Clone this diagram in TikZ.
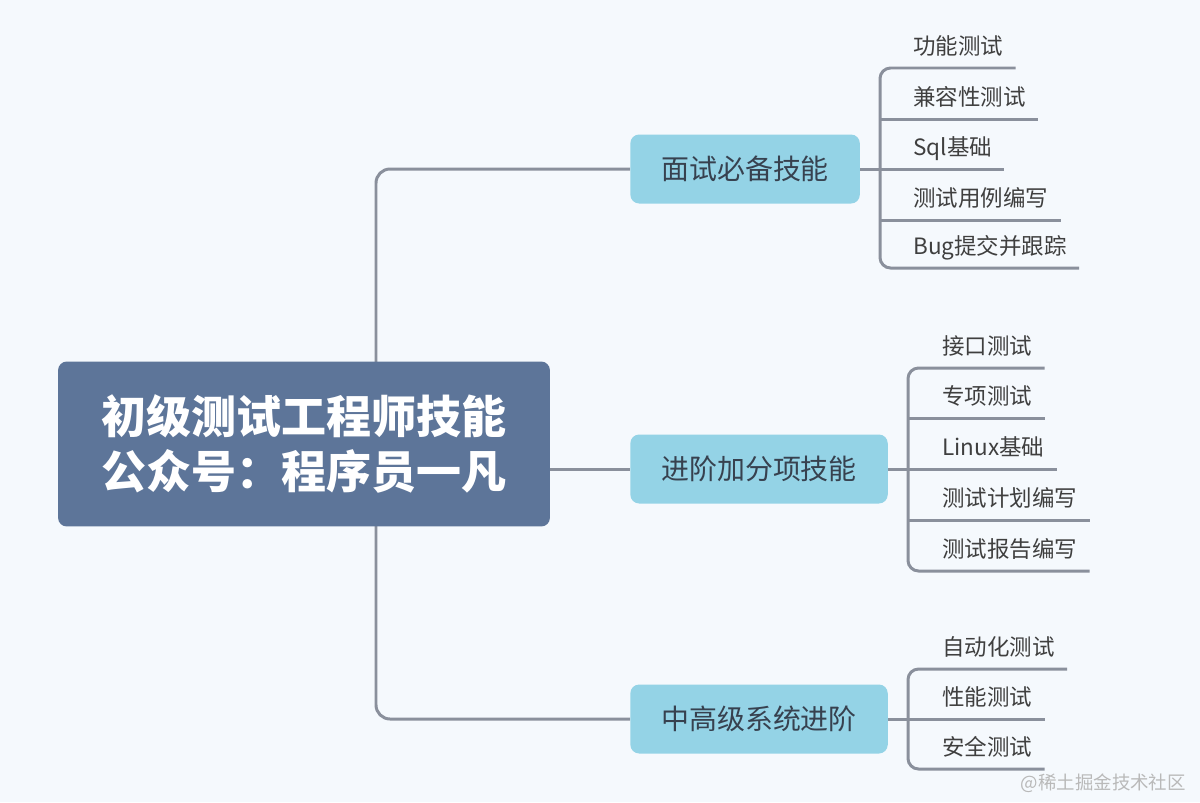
\documentclass[tikz,border=0pt]{standalone}
\usepackage{fontspec}
\setmainfont{Noto Sans CJK SC}
\usetikzlibrary{positioning,backgrounds}
\definecolor{paper}{HTML}{F5F9FD}
\definecolor{rootfill}{HTML}{5D7599}
\definecolor{branchfill}{HTML}{94D3E6}
\definecolor{linkgray}{HTML}{8A909C}
\definecolor{leaftext}{HTML}{3F3F3F}
\definecolor{branchtext}{HTML}{37414F}
\tikzset{
  rootbox/.style={
    rectangle,
    rounded corners=5pt,
    fill=rootfill,
    text=white,
    align=center,
    minimum width=9.84cm,
    minimum height=3.3cm,
    font=\fontsize{25.6}{31.7}\selectfont\bfseries
  },
  branchbox/.style={
    rectangle,
    rounded corners=5pt,
    fill=branchfill,
    text=branchtext,
    anchor=west,
    minimum height=1.38cm,
    inner xsep=17.6pt,
    font=\fontsize{15.9}{19}\selectfont
  },
  leaf/.style={
    anchor=south west,
    inner xsep=6.8pt,
    inner ysep=7.6pt,
    text depth=0pt,
    text=leaftext,
    font=\fontsize{12.8}{15}\selectfont
  },
  link/.style={
    draw=linkgray,
    line width=1.7pt
  },
  watermark/.style={
    anchor=east,
    text=gray!55,
    font=\fontsize{10.5}{12}\selectfont
  }
}

\begin{document}
\begin{tikzpicture}[x=0.02cm, y=-0.02cm]
  \useasboundingbox (0,0) rectangle (1200,802);

  \node[rootbox] (root) at (304,444) {初级测试工程师技能\\公众号：程序员一凡};
  \node[branchbox] (must) at (630,169) {面试必备技能};
  \node[branchbox] (bonus) at (630,469) {进阶加分项技能};
  \node[branchbox] (adv) at (630,719) {中高级系统进阶};

  \coordinate (hub) at (376,469);
  \coordinate (mustjoin) at (880,169);
  \coordinate (bonusjoin) at (908,469);
  \coordinate (advjoin) at (908,719);

  % interview basics
  \node[leaf] (func) at (901,68) {功能测试};
  \node[leaf] (compat) at (901,119) {兼容性测试};
  \node[leaf] (sql) at (901,169) {Sql基础};
  \node[leaf] (cases) at (901,220) {测试用例编写};
  \node[leaf] (bug) at (901,268) {Bug提交并跟踪};

  % bonus skills
  \node[leaf] (api) at (930,368) {接口测试};
  \node[leaf] (special) at (930,418) {专项测试};
  \node[leaf] (linux) at (930,469) {Linux基础};
  \node[leaf] (plan) at (930,520) {测试计划编写};
  \node[leaf] (report) at (930,571) {测试报告编写};

  % advanced
  \node[leaf] (auto) at (930,669) {自动化测试};
  \node[leaf] (perf) at (930,719) {性能测试};
  \node[leaf] (security) at (930,769) {安全测试};

  \node[watermark] (mark) at (1192,783) {@稀土掘金技术社区};

  \begin{scope}[on background layer]
    \fill[paper] (0,0) rectangle (1200,802);
    \draw[link, rounded corners=8pt] (must.west) -| (hub) |- (adv.west);
    \draw[link] (hub) -- (bonus.west);
  \end{scope}

  \draw[link, rounded corners=6pt] (func.south east) -| (mustjoin) |- (bug.south east);
  \draw[link] (must.east) -- (sql.south east);
  \draw[link] (mustjoin |- compat.south) -- (compat.south east);
  \draw[link] (mustjoin |- cases.south) -- (cases.south east);

  \draw[link, rounded corners=6pt] (api.south east) -| (bonusjoin) |- (report.south east);
  \draw[link] (bonus.east) -- (linux.south east);
  \draw[link] (bonusjoin |- special.south) -- (special.south east);
  \draw[link] (bonusjoin |- plan.south) -- (plan.south east);

  \draw[link, rounded corners=6pt] (auto.south east) -| (advjoin) |- (security.south east);
  \draw[link] (adv.east) -- (perf.south east);
\end{tikzpicture}
\end{document}
